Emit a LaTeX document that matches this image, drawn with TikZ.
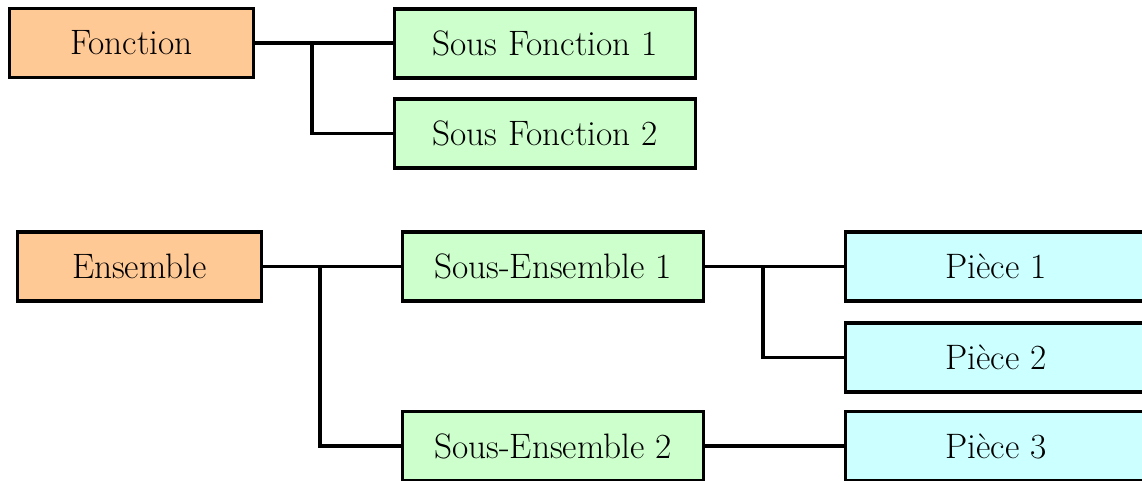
\documentclass[tikz,border=0pt]{standalone}
\definecolor{peach}{RGB}{255,201,150}
\definecolor{mint}{RGB}{204,255,204}
\definecolor{aqua}{RGB}{204,255,255}
\tikzset{
  box/.style={draw=black, line width=2.6pt, rectangle, inner sep=0pt,
    minimum height=51.5pt, font=\fontsize{26.5}{31}\selectfont},
  topbox/.style={box, fill=peach, minimum width=183pt},
  subbox/.style={box, fill=mint, minimum width=225.5pt},
  partbox/.style={box, fill=aqua, minimum width=225.5pt},
  link/.style={line width=2.6pt}
}
\begin{document}
\begin{tikzpicture}[x=0.75pt,y=-0.75pt]
\useasboundingbox (0,0) rectangle (1142,481);
\clip (0,0) rectangle (1142,481);
% top tree
\node[topbox] (F) at (131.5,43) {Fonction};
\node[subbox] (SF1) at (545,43.5) {Sous Fonction 1};
\node[subbox] (SF2) at (545,133.5) {Sous Fonction 2};
\coordinate (j1) at (312,43);
\draw[link] (F.east) -- (F.east -| SF1.west);
\draw[link] (j1) |- (SF2.west);
% bottom tree
\node[topbox] (E) at (139.5,266.5) {Ensemble};
\node[subbox] (SE1) at (553,266.5) {Sous-Ensemble 1};
\node[subbox] (SE2) at (553,446) {Sous-Ensemble 2};
\node[partbox] (P1) at (996,266.5) {Pièce 1};
\node[partbox] (P2) at (996,357.5) {Pièce 2};
\node[partbox] (P3) at (996,446) {Pièce 3};
\coordinate (j2) at (320,266.5);
\coordinate (j3) at (763,266.5);
\draw[link] (E.east) -- (SE1.west);
\draw[link] (j2) |- (SE2.west);
\draw[link] (SE1.east) -- (P1.west);
\draw[link] (j3) |- (P2.west);
\draw[link] (SE2.east) -- (P3.west);
\end{tikzpicture}
\end{document}
